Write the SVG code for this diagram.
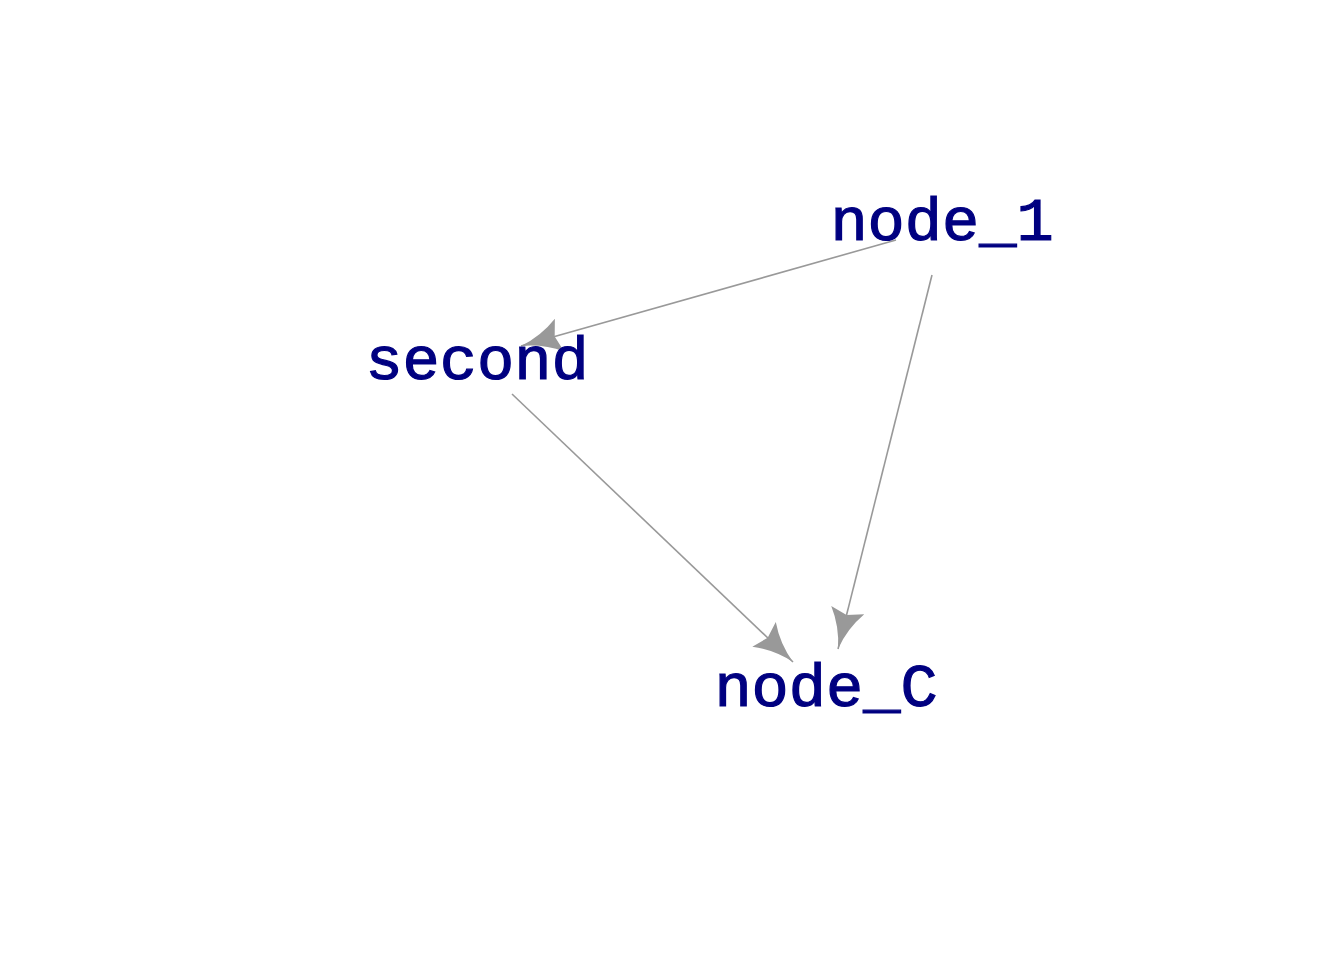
<svg xmlns="http://www.w3.org/2000/svg" width="1344" height="960" viewBox="0 0 1344 960">
<style>
.lbl{font-family:"Liberation Mono","Courier New",monospace;font-size:62px;fill:#000080;stroke:#000080;stroke-width:1.2;text-anchor:middle}
.edge{stroke:#999999;stroke-width:1.6;fill:none}
</style>
<defs>
<marker id="arr" markerUnits="userSpaceOnUse" viewBox="-44 -20 46 40" refX="0" refY="0" markerWidth="46" markerHeight="40" orient="auto" overflow="visible">
<path d="M0,0 Q-22,-4 -40,-17 L-35,0 L-40,17 Q-22,4 0,0 Z" fill="#999999"/>
</marker>
</defs>
<rect width="1344" height="960" fill="#ffffff"/>
<g id="edges">
<path class="edge" d="M896,240 L521,346" marker-end="url(#arr)"/>
<path class="edge" d="M932,275 L838,649" marker-end="url(#arr)"/>
<path class="edge" d="M512,394 L793,662" marker-end="url(#arr)"/>
</g>
<g id="node_1"><text class="lbl" x="942" y="240">node_1</text></g>
<g id="second"><text class="lbl" x="477" y="379">second</text></g>
<g id="node_C"><text class="lbl" x="826" y="706">node_C</text></g>
</svg>
